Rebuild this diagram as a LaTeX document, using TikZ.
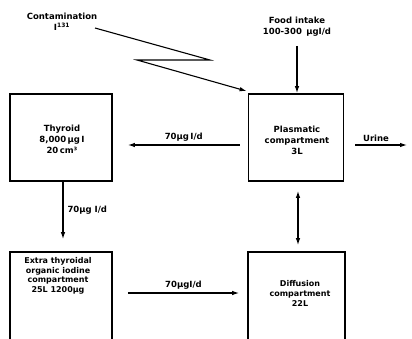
\documentclass[tikz,border=0pt]{standalone}
\usepackage{fontspec}
\setmainfont{DejaVu Sans}
\usetikzlibrary{arrows.meta,calc}
\begin{document}
\begin{tikzpicture}[x=1pt,y=-1pt,
  box/.style={draw,line width=1.8pt,inner sep=0pt},
  txt/.style={font=\fontsize{8.5}{11}\selectfont\bfseries,align=center,inner sep=1pt},
  flow/.style={line width=1.1pt,-{Latex[length=7pt,width=4.5pt]}},
  both/.style={line width=1.1pt,{Latex[length=7pt,width=4.5pt]}-{Latex[length=7pt,width=4.5pt]}}]
\useasboundingbox (0,0) rectangle (412,338);
\clip (0,0) rectangle (412,338);
% boxes
\node[box,minimum width=102pt,minimum height=87pt] (thy) at (61,137.5) {};
\node[box,minimum width=95pt,minimum height=87pt] (plas) at (296,137.5) {};
\node[box,minimum width=97pt,minimum height=100pt] (dif) at (296.5,302) {};
\node[box,minimum width=102pt,minimum height=100pt] (ext) at (61,302) {};
% box texts
\node[txt] (thyt) at (62,139) {Thyroid\\8,000\,µg\,I\\20\,cm³};
\node[txt] (plast) at (297,140) {Plasmatic\\compartment\\3L};
\node[txt,font=\fontsize{8}{9.5}\selectfont\bfseries] (extt) at (58,276) {Extra thyroidal\\organic iodine\\compartment\\25L 1200µg};
\node[txt,font=\fontsize{8}{10}\selectfont\bfseries] (dift) at (300,293) {Diffusion\\compartment\\22L};
% outside texts
\node[txt] (food) at (297,27) {Food intake\\100-300\, µgI/d};
\node[txt] (cont) at (62,22) {Contamination\\I\textsuperscript{131}};
% contamination zigzag
\coordinate (z0) at (95,28);
\coordinate (z1) at (210,60);
\coordinate (z2) at (137,60);
\draw[flow] (z0) -- (z1) -- (z2) -- ($(plas.north west)+(-1,-2)$);
% food
\draw[flow] ($(food.south)+(0,8)$) -- (plas.north -| food.south);
% plasmatic -> thyroid
\draw[flow] ($(plas.west)+(-8,7.5)$) -- ($(thy.east)+(15,7.5)$)
  node[txt,midway,above=2pt] (l1) {70µg\,I/d};
% thyroid -> extra
\draw[flow] ($(thy.south)+(2,0)$) -- ($(ext.north)+(2,-12)$)
  node[txt,midway,right=3pt] (l2) {70µg I/d};
% extra -> diffusion
\draw[flow] ($(ext.east)+(15,-9)$) -- ($(dif.west)+(-8,-9)$)
  node[txt,midway,above=2pt] (l3) {70µgI/d};
% plasmatic <-> diffusion
\draw[both] ($(plas.south)+(2,9)$) -- ($(dif.north)+(1.5,-6)$);
% urine
\coordinate (uend) at (407,145);
\draw[flow] ($(plas.east)+(11,7.5)$) -- (uend)
  node[txt,pos=0.4,above=2pt] (ur) {Urine};
\end{tikzpicture}
\end{document}
